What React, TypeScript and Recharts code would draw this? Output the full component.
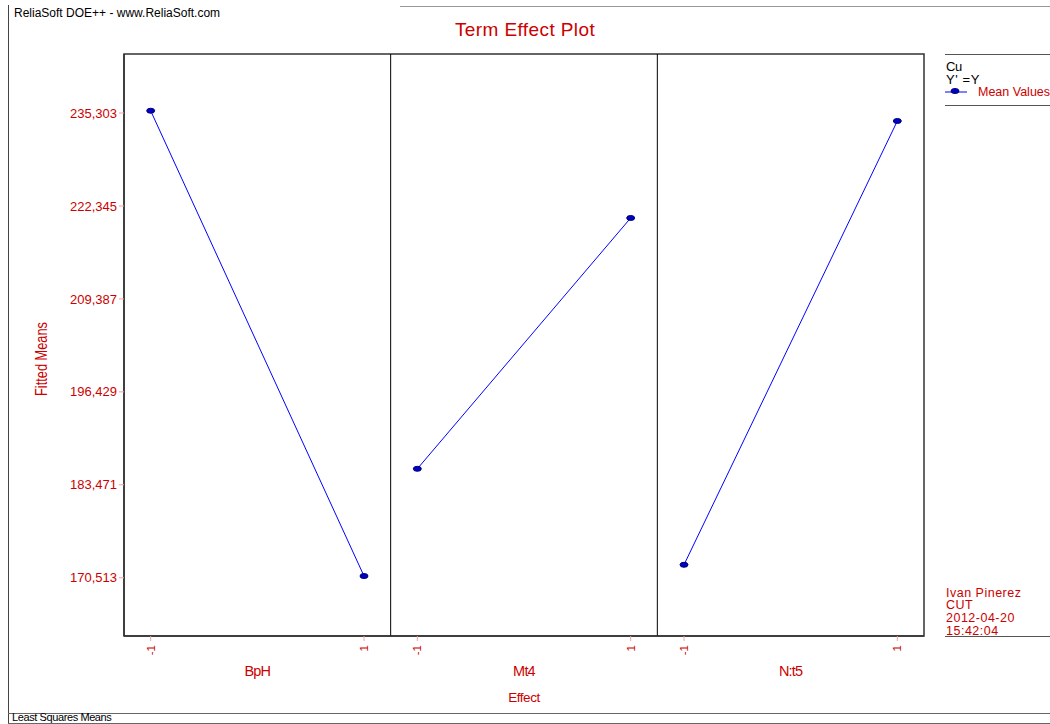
import {
  ComposedChart, Line, XAxis, YAxis, ReferenceLine, ReferenceArea, Legend,
} from 'recharts'

// ─── data ─────────────────────────────────────────────────────────────

const FACTORS = ['BpH', 'Mt4', 'N:t5']
const LEVELS = [-1, 1]
// fitted mean at level -1 / level +1, per factor
const LOW_MEANS = [235.62, 185.7, 172.32]
const HIGH_MEANS = [170.75, 220.67, 234.19]
const Y_TICKS = [170.513, 183.471, 196.429, 209.387, 222.345, 235.303]

// ─── layout constants ─────────────────────────────────────────────────

const W = 1050
const H = 724
const RED = '#cc0000'
const BLUE = '#0000ff'
const FONT = '"Liberation Sans", Arial, sans-serif'
const PANEL = 2.5 // width of one factor panel on the shared x scale
const Y_MIN = 162.39
const Y_MAX = 243.53

const panelCenter = (i: number) => i * PANEL + PANEL / 2
const tickPositions = FACTORS.flatMap((_, i) => LEVELS.map((l) => panelCenter(i) + l))
const series = FACTORS.map((name, i) => ({
  name,
  points: [
    { x: panelCenter(i) + LEVELS[0], mean: LOW_MEANS[i] },
    { x: panelCenter(i) + LEVELS[1], mean: HIGH_MEANS[i] },
  ],
}))

const fmt = (v: number) => v.toFixed(3).replace('.', ',')

// ─── pieces ───────────────────────────────────────────────────────────

function MeanDot({ cx, cy }: { cx?: number; cy?: number }) {
  if (cx == null || cy == null) return null
  return <ellipse cx={cx} cy={cy} rx={4} ry={2.5} fill="#0000c8" stroke="#000070" strokeWidth={1} />
}

function LevelTick({ x, y, index }: { x?: number; y?: number; index?: number }) {
  return (
    <text
      x={x}
      y={y}
      transform={`rotate(-90 ${x} ${y})`}
      textAnchor="end"
      dy="0.35em"
      fill={RED}
      fontSize={11.5}
      fontFamily={FONT}
    >
      {LEVELS[(index ?? 0) % 2]}
    </text>
  )
}

function MeansLabel({ viewBox }: { viewBox?: { x: number; y: number; width: number; height: number } }) {
  if (!viewBox) return null
  const cx = 41
  const cy = viewBox.y + viewBox.height / 2 + 14
  return (
    <text
      x={cx}
      y={cy}
      transform={`rotate(-90 ${cx} ${cy})`}
      textAnchor="middle"
      dy="0.35em"
      fill={RED}
      fontSize={16}
      fontFamily={FONT}
      textLength={74}
      lengthAdjust="spacingAndGlyphs"
    >
      Fitted Means
    </text>
  )
}

function LegendBox() {
  return (
    <svg width={105} height={54} style={{ display: 'block', overflow: 'visible' }}>
      <line x1={0} y1={0.5} x2={105} y2={0.5} stroke="#555" />
      <text x={1} y={17} fontSize={13} fontFamily={FONT} fill="#000" letterSpacing={-0.3}>Cu</text>
      <text x={1} y={30} fontSize={13} fontFamily={FONT} fill="#000" letterSpacing={0.6}>Y' =Y</text>
      <line x1={0} y1={38} x2={22} y2={38} stroke={BLUE} />
      <ellipse cx={10} cy={37} rx={4} ry={2.5} fill="#0000c8" stroke="#000070" />
      <text x={33} y={42} fontSize={12.5} fontFamily={FONT} fill={RED} letterSpacing={0}>Mean Values</text>
      <line x1={0} y1={51.5} x2={105} y2={51.5} stroke="#555" />
    </svg>
  )
}

// ─── page ─────────────────────────────────────────────────────────────

export default function App() {
  return (
    <div style={{ position: 'absolute', left: 0, top: 0, width: W, height: H, background: '#fff', fontFamily: FONT }}>
      <ComposedChart width={W} height={H} margin={{ top: 54, right: 126, bottom: 20, left: 44 }}>
        <XAxis
          type="number"
          dataKey="x"
          domain={[0, PANEL * FACTORS.length]}
          ticks={tickPositions}
          interval={0}
          height={68}
          tickSize={5}
          tickMargin={4}
          tick={<LevelTick />}
          tickLine={{ stroke: '#f4a0a0' }}
          axisLine={{ stroke: '#333', strokeWidth: 1.5 }}
          allowDataOverflow
          label={{ value: 'Effect', position: 'insideBottom', offset: 2, fill: RED, fontSize: 13.5, fontFamily: FONT, letterSpacing: -0.5 }}
        />
        <YAxis
          type="number"
          domain={[Y_MIN, Y_MAX]}
          ticks={Y_TICKS}
          interval={0}
          allowDataOverflow
          width={80}
          tickSize={5}
          tickFormatter={fmt}
          tick={{ fill: RED, fontSize: 13, fontFamily: FONT }}
          tickLine={{ stroke: '#f4a0a0' }}
          axisLine={{ stroke: '#333', strokeWidth: 1.5 }}
          label={<MeansLabel />}
        />
        <ReferenceArea
          x1={0}
          x2={PANEL * FACTORS.length}
          y1={Y_MIN}
          y2={Y_MAX}
          fill="none"
          stroke="#333"
          strokeWidth={1.5}
          ifOverflow="visible"
        />
        <ReferenceLine x={PANEL} stroke="#000" strokeWidth={1} />
        <ReferenceLine x={PANEL * 2} stroke="#000" strokeWidth={1} />
        {/* factor names centred under each panel */}
        {FACTORS.map((name, i) => (
          <ReferenceLine
            key={name}
            x={panelCenter(i)}
            stroke="none"
            label={{
              value: name,
              position: 'bottom',
              offset: 30,
              fill: RED,
              fontSize: 14.5,
              fontFamily: FONT,
              letterSpacing: -0.8,
            }}
          />
        ))}
        <Legend
          layout="horizontal"
          align="center"
          verticalAlign="middle"
          width={105}
          wrapperStyle={{ left: 945, top: 54, width: 105 }}
          content={() => <LegendBox />}
        />
        {series.map((s) => (
          <Line
            key={s.name}
            data={s.points}
            dataKey="mean"
            name="Mean Values"
            type="linear"
            stroke={BLUE}
            strokeWidth={1}
            dot={<MeanDot />}
            activeDot={false}
            isAnimationActive={false}
            legendType="none"
          />
        ))}
      </ComposedChart>

      {/* page furniture around the plot */}
      <svg width={W} height={H} style={{ position: 'absolute', left: 0, top: 0, pointerEvents: 'none' }}>
        <line x1={8.5} y1={5} x2={8.5} y2={H} stroke="#444" />
        <line x1={400} y1={6.5} x2={W} y2={6.5} stroke="#999" />
        <text x={14} y={17} fontSize={12} fontFamily={FONT} fill="#000" letterSpacing={0}>
          ReliaSoft DOE++ - www.ReliaSoft.com
        </text>
        <text x={525} y={36} textAnchor="middle" fontSize={19} fontFamily={FONT} fill={RED} letterSpacing={0.4}>
          Term Effect Plot
        </text>
        <g fontSize={12.5} fontFamily={FONT} fill={RED} letterSpacing={0.5}>
          <text x={946} y={597}>Ivan Pinerez</text>
          <text x={946} y={609}>CUT</text>
          <text x={946} y={622}>2012-04-20</text>
          <text x={946} y={635}>15:42:04</text>
        </g>
        <line x1={945} y1={636.5} x2={W} y2={636.5} stroke="#555" />
        <line x1={8} y1={713.5} x2={W} y2={713.5} stroke="#666" />
        <text x={12} y={721} fontSize={11} fontFamily={FONT} fill="#000" letterSpacing={-0.4}>
          Least Squares Means
        </text>
        <line x1={8} y1={723.5} x2={W} y2={723.5} stroke="#666" />
      </svg>
    </div>
  )
}
